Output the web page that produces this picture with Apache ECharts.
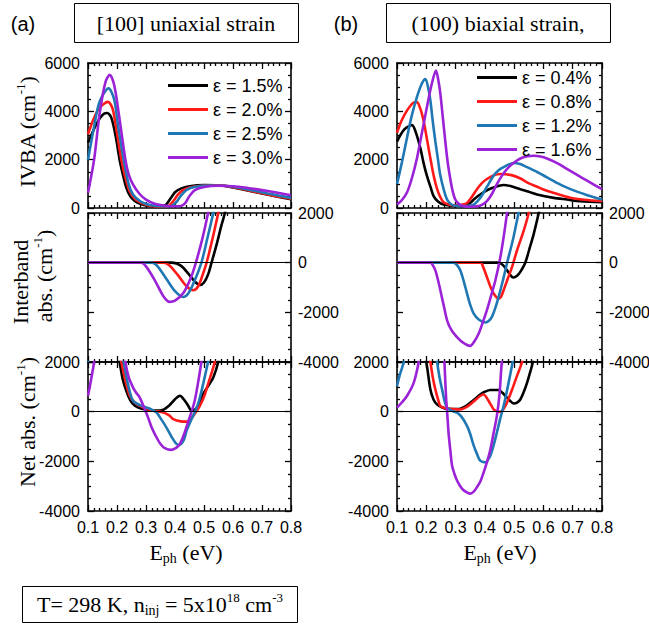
<!DOCTYPE html>
<html>
<head>
<meta charset="utf-8">
<script src="https://cdn.jsdelivr.net/npm/echarts@6/dist/echarts.min.js"></script>
<style>
html, body { margin: 0; padding: 0; background: #fff; }
#chart { width: 649px; height: 629px; }
</style>
</head>
<body>
<div id="chart"></div>
<script>
// strain labels for both columns
const strainA = ['ε = 1.5%', 'ε = 2.0%', 'ε = 2.5%', 'ε = 3.0%'];
const strainB = ['ε = 0.4%', 'ε = 0.8%', 'ε = 1.2%', 'ε = 1.6%'];
const xTicks = [0.1, 0.2, 0.3, 0.4, 0.5, 0.6, 0.7, 0.8];

// (a) [100] uniaxial — IVBA
const ivbaA_15 = [[0.1,2700],[0.12,3250],[0.14,3700],[0.155,3900],[0.166,3930],[0.18,3750],[0.195,3000],[0.209,2000],[0.22,1400],[0.232,840],[0.245,500],[0.26,300],[0.28,170],[0.3,110],[0.33,80],[0.355,80],[0.37,150],[0.385,400],[0.4,650],[0.42,800],[0.45,900],[0.5,950],[0.55,940],[0.6,850],[0.65,720],[0.7,600],[0.75,480],[0.8,360]];
const ivbaA_20 = [[0.1,3050],[0.12,3700],[0.14,4150],[0.169,4390],[0.185,4100],[0.2,3100],[0.215,2000],[0.23,1200],[0.244,680],[0.26,400],[0.278,240],[0.3,130],[0.325,70],[0.36,60],[0.38,100],[0.395,300],[0.41,550],[0.425,720],[0.45,850],[0.5,930],[0.55,940],[0.6,860],[0.65,740],[0.7,610],[0.75,490],[0.8,380]];
const ivbaA_25 = [[0.1,2000],[0.12,3300],[0.14,4400],[0.171,4950],[0.19,4500],[0.205,3300],[0.223,2000],[0.24,1000],[0.255,560],[0.28,280],[0.301,170],[0.33,90],[0.37,70],[0.39,100],[0.405,250],[0.42,500],[0.44,750],[0.47,880],[0.52,930],[0.57,920],[0.62,840],[0.67,720],[0.72,600],[0.76,510],[0.8,420]];
const ivbaA_30 = [[0.1,630],[0.121,2000],[0.14,3900],[0.16,5200],[0.175,5510],[0.19,5100],[0.205,4000],[0.229,2000],[0.24,1400],[0.255,980],[0.278,580],[0.3,350],[0.33,180],[0.36,110],[0.39,70],[0.42,80],[0.435,200],[0.45,500],[0.47,750],[0.5,870],[0.55,920],[0.6,900],[0.65,830],[0.7,740],[0.75,640],[0.8,530]];

// (a) interband absorption
const intA_15 = [[0.1,0],[0.39,0],[0.42,-120],[0.45,-500],[0.47,-780],[0.486,-900],[0.5,-800],[0.515,-450],[0.526,0],[0.545,800],[0.56,1500],[0.572,2000],[0.59,3000]];
const intA_20 = [[0.1,0],[0.36,0],[0.38,-100],[0.41,-500],[0.44,-950],[0.463,-1110],[0.48,-950],[0.495,-500],[0.509,0],[0.53,1000],[0.549,2000],[0.565,3000]];
const intA_25 = [[0.1,0],[0.32,0],[0.34,-150],[0.37,-650],[0.4,-1150],[0.428,-1380],[0.445,-1250],[0.465,-800],[0.491,0],[0.51,900],[0.532,2000],[0.55,3000]];
const intA_30 = [[0.1,0],[0.284,0],[0.3,-150],[0.33,-700],[0.36,-1350],[0.382,-1580],[0.4,-1530],[0.43,-1200],[0.455,-600],[0.472,0],[0.495,1000],[0.514,2000],[0.53,3000]];

// (a) net absorption
const netA_15 = [[0.1,2700],[0.166,3930],[0.195,3000],[0.209,2000],[0.22,1300],[0.232,840],[0.245,480],[0.26,260],[0.28,140],[0.3,90],[0.336,40],[0.36,80],[0.38,250],[0.4,500],[0.417,640],[0.43,500],[0.445,250],[0.457,40],[0.47,100],[0.485,300],[0.497,710],[0.515,1050],[0.532,1380],[0.549,2000],[0.56,2800]];
const netA_20 = [[0.1,3050],[0.169,4390],[0.2,3100],[0.215,2000],[0.23,1200],[0.244,640],[0.26,380],[0.278,240],[0.3,120],[0.325,40],[0.36,-30],[0.38,-150],[0.394,-300],[0.42,-390],[0.44,-400],[0.455,-300],[0.463,-160],[0.475,30],[0.486,240],[0.5,600],[0.514,1110],[0.526,1550],[0.537,2000],[0.55,2800]];
const netA_25 = [[0.1,2000],[0.12,3300],[0.171,4950],[0.205,3300],[0.223,2000],[0.24,1000],[0.255,440],[0.28,260],[0.301,170],[0.32,80],[0.336,-30],[0.355,-350],[0.37,-630],[0.39,-1050],[0.405,-1300],[0.415,-1340],[0.43,-1150],[0.44,-760],[0.455,-350],[0.468,-30],[0.482,400],[0.497,1110],[0.514,2000],[0.53,2900]];
const netA_30 = [[0.1,640],[0.121,2000],[0.14,3900],[0.175,5510],[0.205,4000],[0.229,2000],[0.24,1400],[0.255,980],[0.265,780],[0.278,580],[0.29,260],[0.307,-230],[0.32,-650],[0.336,-1030],[0.35,-1300],[0.365,-1470],[0.388,-1540],[0.405,-1450],[0.417,-1300],[0.43,-950],[0.445,-430],[0.457,0],[0.468,440],[0.48,1200],[0.491,2000],[0.5,2700]];

// (b) (100) biaxial — IVBA
const ivbaB_04 = [[0.1,2750],[0.125,3250],[0.151,3430],[0.165,3100],[0.18,2470],[0.19,1900],[0.202,1340],[0.215,850],[0.225,490],[0.24,270],[0.259,140],[0.29,100],[0.316,100],[0.335,140],[0.35,210],[0.365,380],[0.384,560],[0.41,750],[0.43,850],[0.464,950],[0.49,900],[0.521,780],[0.55,670],[0.578,560],[0.635,420],[0.68,350],[0.726,280],[0.8,240]];
const ivbaB_08 = [[0.1,3110],[0.115,3600],[0.134,4030],[0.155,4350],[0.168,4380],[0.18,4100],[0.191,3600],[0.203,2800],[0.214,2050],[0.225,1350],[0.237,780],[0.248,450],[0.259,240],[0.28,130],[0.305,100],[0.325,140],[0.339,210],[0.355,450],[0.373,780],[0.39,1030],[0.407,1200],[0.43,1350],[0.453,1410],[0.487,1370],[0.52,1230],[0.544,1060],[0.58,870],[0.612,710],[0.65,570],[0.692,420],[0.74,340],[0.8,280]];
const ivbaB_12 = [[0.1,990],[0.117,1900],[0.134,2900],[0.15,3800],[0.168,4590],[0.185,5150],[0.197,5340],[0.206,5000],[0.214,4450],[0.222,3600],[0.231,2750],[0.24,2000],[0.248,1340],[0.26,750],[0.271,350],[0.282,180],[0.293,100],[0.328,70],[0.345,90],[0.362,140],[0.38,350],[0.396,640],[0.413,1000],[0.43,1340],[0.447,1560],[0.464,1690],[0.498,1860],[0.52,1820],[0.544,1690],[0.58,1480],[0.612,1270],[0.65,1020],[0.692,780],[0.75,530],[0.8,350]];
const ivbaB_16 = [[0.1,140],[0.117,330],[0.134,640],[0.15,1200],[0.168,2050],[0.185,3100],[0.202,4170],[0.218,5100],[0.233,5690],[0.241,5300],[0.248,4730],[0.256,3800],[0.265,2750],[0.273,1900],[0.282,1200],[0.29,700],[0.299,350],[0.312,160],[0.328,70],[0.35,50],[0.373,70],[0.39,130],[0.407,280],[0.425,600],[0.441,990],[0.458,1330],[0.476,1620],[0.5,1880],[0.521,2050],[0.545,2140],[0.567,2160],[0.59,2130],[0.612,2050],[0.645,1870],[0.68,1620],[0.715,1370],[0.749,1130],[0.775,950],[0.8,780]];

// (b) interband absorption
const intB_04 = [[0.1,0],[0.447,0],[0.46,-80],[0.476,-310],[0.49,-540],[0.498,-600],[0.51,-530],[0.521,-370],[0.538,0],[0.552,550],[0.567,1160],[0.584,2000],[0.6,2800]];
const intB_08 = [[0.1,0],[0.385,0],[0.395,-200],[0.407,-580],[0.42,-1000],[0.43,-1240],[0.447,-1450],[0.455,-1380],[0.464,-1110],[0.478,-650],[0.493,-170],[0.51,500],[0.533,1300],[0.55,2000],[0.565,2700]];
const intB_12 = [[0.1,0],[0.293,0],[0.305,-100],[0.316,-310],[0.328,-750],[0.339,-1240],[0.35,-1700],[0.362,-2050],[0.38,-2300],[0.402,-2410],[0.413,-2350],[0.424,-2180],[0.435,-1850],[0.447,-1380],[0.462,-700],[0.476,0],[0.488,550],[0.498,1030],[0.515,2000],[0.53,2800]];
const intB_16 = [[0.1,0],[0.214,0],[0.222,-100],[0.231,-310],[0.24,-700],[0.248,-1110],[0.26,-1750],[0.271,-2320],[0.285,-2700],[0.299,-2920],[0.322,-3190],[0.35,-3350],[0.365,-3150],[0.379,-2850],[0.393,-2400],[0.407,-1910],[0.422,-1300],[0.436,-710],[0.453,230],[0.465,1100],[0.476,2000],[0.49,3000]];

// (b) net absorption
const netB_04 = [[0.1,2750],[0.151,3430],[0.185,2700],[0.2,2000],[0.214,890],[0.225,480],[0.237,290],[0.255,170],[0.271,120],[0.3,110],[0.316,120],[0.335,220],[0.35,360],[0.367,520],[0.384,690],[0.4,800],[0.419,870],[0.447,870],[0.46,760],[0.47,630],[0.485,450],[0.498,330],[0.51,360],[0.521,490],[0.533,800],[0.544,1160],[0.555,1600],[0.564,2000],[0.575,2700]];
const netB_08 = [[0.1,3110],[0.168,4380],[0.2,3000],[0.214,2000],[0.222,1400],[0.231,890],[0.24,500],[0.248,230],[0.265,140],[0.282,120],[0.316,90],[0.335,170],[0.35,290],[0.367,460],[0.384,630],[0.396,690],[0.405,580],[0.413,430],[0.422,250],[0.43,90],[0.44,20],[0.453,-10],[0.462,80],[0.47,230],[0.481,520],[0.493,890],[0.51,1450],[0.527,2000],[0.54,2700]];
const netB_12 = [[0.1,1030],[0.11,1500],[0.123,2000],[0.134,2900],[0.197,5340],[0.231,2750],[0.237,2000],[0.245,1400],[0.254,890],[0.262,450],[0.271,160],[0.288,30],[0.305,-40],[0.32,-200],[0.339,-570],[0.35,-900],[0.362,-1370],[0.373,-1700],[0.384,-1970],[0.402,-2040],[0.41,-1950],[0.419,-1770],[0.43,-1350],[0.441,-840],[0.452,-300],[0.464,230],[0.473,700],[0.481,1160],[0.495,2000],[0.51,2900]];
const netB_16 = [[0.1,160],[0.117,380],[0.134,630],[0.157,1160],[0.174,2000],[0.19,3300],[0.233,5690],[0.255,3800],[0.262,2000],[0.265,1200],[0.268,490],[0.272,-150],[0.276,-840],[0.282,-1550],[0.288,-2170],[0.296,-2500],[0.305,-2770],[0.316,-3000],[0.328,-3170],[0.35,-3300],[0.362,-3220],[0.373,-3040],[0.385,-2800],[0.396,-2440],[0.408,-2000],[0.419,-1510],[0.43,-850],[0.441,-170],[0.45,700],[0.458,2000],[0.47,3000]];

const colors = ['#000000', '#ff1a1a', '#1f78b4', '#9b22d6'];
const SANS = 'Liberation Sans';
const SERIF = 'Liberation Serif';

// column x placement and panel rows
const cols = [
  { left: 88, width: 203, names: strainA,
    panels: [[ivbaA_15, ivbaA_20, ivbaA_25, ivbaA_30], [intA_15, intA_20, intA_25, intA_30], [netA_15, netA_20, netA_25, netA_30]] },
  { left: 397, width: 205, names: strainB,
    panels: [[ivbaB_04, ivbaB_08, ivbaB_12, ivbaB_16], [intB_04, intB_08, intB_12, intB_16], [netB_04, netB_08, netB_12, netB_16]] }
];
const rows = [
  { top: 63, height: 145, min: 0, max: 6000, lab: 'left' },
  { top: 213, height: 149, min: -4000, max: 2000, lab: 'right', zero: true },
  { top: 362, height: 149, min: -4000, max: 2000, lab: 'left', zero: true, xlab: true }
];

const tick = len => ({ show: true, inside: true, length: len, lineStyle: { color: '#000', width: 1.3 } });
const grid = [], xAxis = [], yAxis = [], series = [];

cols.forEach((c, ci) => {
  rows.forEach((r, ri) => {
    const g = grid.length;
    grid.push({ left: c.left, top: r.top, width: c.width, height: r.height, outerBoundsMode: 'none' });
    ['bottom', 'top'].forEach(pos => {
      xAxis.push({
        gridIndex: g, type: 'value', position: pos,
        min: xTicks[0], max: xTicks[xTicks.length - 1], interval: 0.1,
        axisLine: { show: true, onZero: false, lineStyle: { color: '#000', width: 1.6 } },
        axisTick: tick(6),
        minorTick: Object.assign(tick(3), { splitNumber: 5 }),
        axisLabel: { show: pos === 'bottom' && !!r.xlab, color: '#000', fontSize: 16, fontFamily: SANS, margin: 8,
          formatter: v => v.toFixed(1) },
        splitLine: { show: false }
      });
    });
    ['left', 'right'].forEach(pos => {
      yAxis.push({
        gridIndex: g, type: 'value', position: pos,
        min: r.min, max: r.max, interval: 2000,
        axisLine: { show: true, onZero: false, lineStyle: { color: '#000', width: 1.6 } },
        axisTick: tick(6),
        minorTick: Object.assign(tick(3), { splitNumber: 4 }),
        axisLabel: { show: r.lab === pos, color: '#000', fontSize: 16, fontFamily: SANS, margin: pos === 'left' ? 8 : 7,
          formatter: v => String(v) },
        splitLine: { show: false }
      });
    });
    c.panels[ri].forEach((d, i) => {
      const s = {
        type: 'line', name: c.names[i], xAxisIndex: 2 * g, yAxisIndex: 2 * g,
        data: d, symbol: 'none', smooth: 0.3, clip: true, silent: true,
        lineStyle: { width: 2.6, color: colors[i] }, itemStyle: { color: colors[i] }
      };
      if (r.zero && i === 0) {
        s.markLine = { symbol: ['none', 'none'], silent: true, label: { show: false },
          lineStyle: { color: '#000', width: 1.2, type: 'solid' }, data: [{ yAxis: 0 }] };
      }
      series.push(s);
    });
  });
});

const legendBase = {
  orient: 'vertical', icon: 'rect', itemWidth: 40, itemHeight: 3, itemGap: 5,
  selectedMode: false, textStyle: { fontSize: 18, fontFamily: SANS, color: '#000', lineHeight: 19 }
};

const serifRich = {
  a: { fontFamily: SERIF, fontSize: 22, color: '#000', lineHeight: 26 },
  s: { fontFamily: SERIF, fontSize: 13, color: '#000', lineHeight: 26, verticalAlign: 'top', padding: [0, 0, 10, 0] },
  d: { fontFamily: SERIF, fontSize: 14, color: '#000', lineHeight: 26, padding: [12, 0, 0, 0] }
};
function txt(x, y, text, rot, align) {
  return { type: 'text', x: x, y: y, rotation: rot || 0,
    style: { text: text, rich: serifRich, align: align || 'center', verticalAlign: 'middle', fill: '#000' } };
}
function box(x, y, w, h) {
  return { type: 'rect', shape: { x: x, y: y, width: w, height: h }, style: { fill: 'none', stroke: '#000', lineWidth: 1 } };
}

const chart = echarts.init(document.getElementById('chart'), null, { renderer: 'svg' });
chart.setOption({
  animation: false,
  backgroundColor: '#fff',
  grid, xAxis, yAxis, series,
  legend: [
    Object.assign({ data: strainA, left: 163, top: 71 }, legendBase),
    Object.assign({ data: strainB, left: 472, top: 63 }, legendBase)
  ],
  graphic: [
    { type: 'text', x: 23, y: 24, style: { text: '(a)', font: '20px Liberation Sans', fill: '#000', align: 'center', verticalAlign: 'middle' } },
    { type: 'text', x: 346, y: 24, style: { text: '(b)', font: '20px Liberation Sans', fill: '#000', align: 'center', verticalAlign: 'middle' } },
    box(74.5, 3.5, 224, 39),
    box(386.5, 3.5, 224, 39),
    txt(186, 23, '{a|[100] uniaxial strain}'),
    txt(498, 23, '{a|(100) biaxial strain,}'),
    txt(27, 132, '{a|IVBA (cm}{s|-1}{a|)}', Math.PI / 2),
    txt(20, 282, '{a|Interband}', Math.PI / 2),
    txt(44, 276, '{a|abs. (cm}{s|-1}{a|)}', Math.PI / 2),
    txt(27, 422, '{a|Net abs. (cm}{s|-1}{a|)}', Math.PI / 2),
    txt(186, 552, '{a|E}{d|ph}{a| (eV)}'),
    txt(500, 552, '{a|E}{d|ph}{a| (eV)}'),
    box(22.5, 586.5, 275, 36),
    txt(160, 604, '{a|T= 298 K, n}{d|inj}{a| = 5x10}{s|18}{a| cm}{s|-3}')
  ]
});
</script>
</body>
</html>
